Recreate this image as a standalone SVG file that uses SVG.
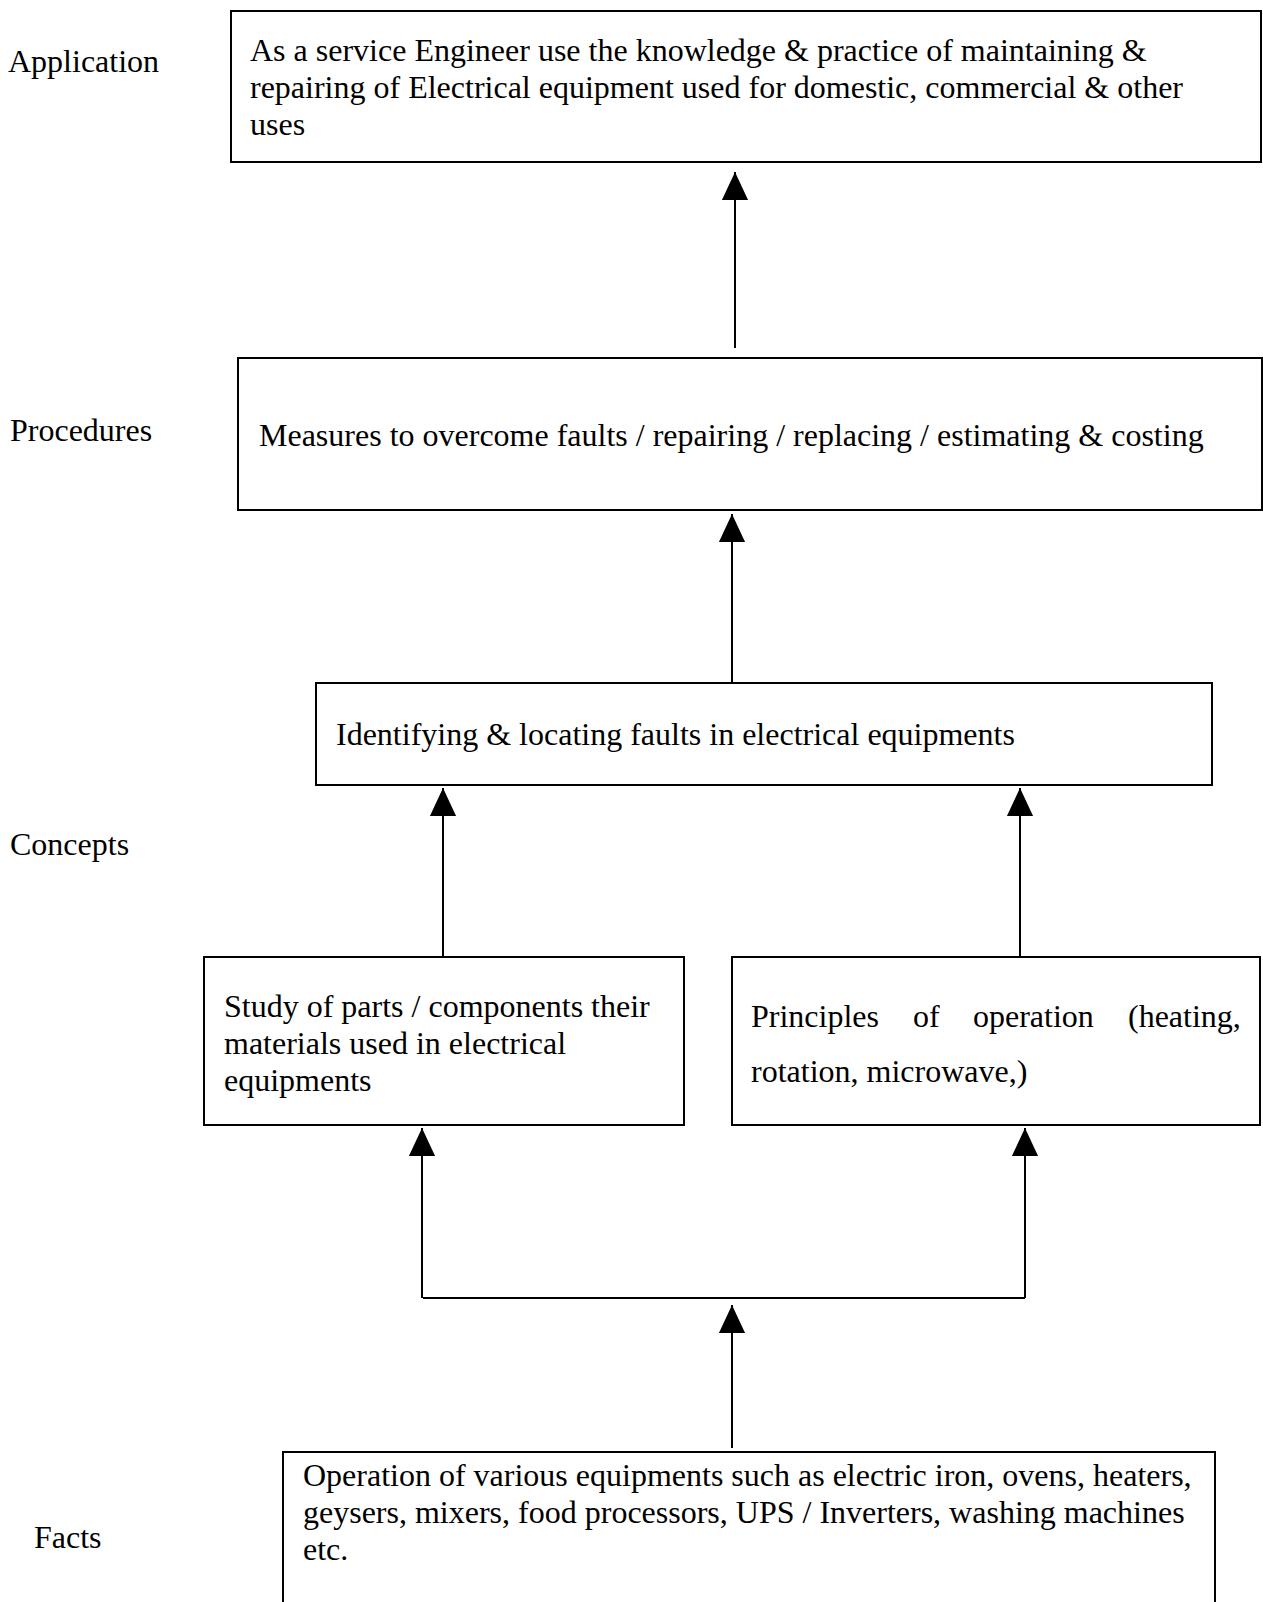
<svg xmlns="http://www.w3.org/2000/svg" width="1263" height="1602" viewBox="0 0 1263 1602">
<style>
text{font-family:"Liberation Serif","Times New Roman",serif;font-size:32px;fill:#000}
.box{fill:#fff;stroke:#000;stroke-width:2}
.con{stroke:#000;stroke-width:2;fill:none}
</style>
<defs>
<marker id="ah" markerUnits="userSpaceOnUse" markerWidth="28" markerHeight="30" viewBox="0 0 30 28" refX="30" refY="14" orient="auto">
<path d="M0,0 L30,14 L0,28 Z" fill="#000"/>
</marker>
</defs>
<rect width="1263" height="1602" fill="#fff"/>
<g id="labels">
<text x="8" y="72">Application</text>
<text x="10" y="441">Procedures</text>
<text x="10" y="855">Concepts</text>
<text x="34" y="1548">Facts</text>
</g>
<g id="connectors">
<line class="con" x1="735" y1="348" x2="735" y2="172" marker-end="url(#ah)"/>
<line class="con" x1="732" y1="682" x2="732" y2="514" marker-end="url(#ah)"/>
<line class="con" x1="443" y1="957" x2="443" y2="788" marker-end="url(#ah)"/>
<line class="con" x1="1020" y1="957" x2="1020" y2="788" marker-end="url(#ah)"/>
<line class="con" x1="422" y1="1298" x2="422" y2="1128" marker-end="url(#ah)"/>
<line class="con" x1="1025" y1="1298" x2="1025" y2="1128" marker-end="url(#ah)"/>
<line class="con" x1="423" y1="1298" x2="1025" y2="1298"/>
<line class="con" x1="732" y1="1448" x2="732" y2="1305" marker-end="url(#ah)"/>
</g>
<g id="application">
<rect class="box" x="231" y="11" width="1030" height="151"/>
<text x="250" y="61">As a service Engineer use the knowledge &amp; practice of maintaining &amp;</text>
<text x="250" y="98">repairing of Electrical equipment used for domestic, commercial &amp; other</text>
<text x="250" y="135">uses</text>
</g>
<g id="procedures">
<rect class="box" x="238" y="358" width="1024" height="152"/>
<text x="259" y="446">Measures to overcome faults / repairing / replacing / estimating &amp; costing</text>
</g>
<g id="identifying">
<rect class="box" x="316" y="683" width="896" height="102"/>
<text x="336" y="745">Identifying &amp; locating faults in electrical equipments</text>
</g>
<g id="study">
<rect class="box" x="204" y="957" width="480" height="168"/>
<text x="224" y="1017">Study of parts / components their</text>
<text x="224" y="1054">materials used in electrical</text>
<text x="224" y="1091">equipments</text>
</g>
<g id="principles">
<rect class="box" x="732" y="957" width="528" height="168"/>
<text y="1027"><tspan x="751">Principles</tspan><tspan x="913">of</tspan><tspan x="973">operation</tspan><tspan x="1128">(heating,</tspan></text>
<text x="751" y="1082">rotation, microwave,)</text>
</g>
<g id="facts">
<rect class="box" x="283" y="1452" width="932" height="180"/>
<text x="303" y="1486">Operation of various equipments such as electric iron, ovens, heaters,</text>
<text x="303" y="1523">geysers, mixers, food processors, UPS / Inverters, washing machines</text>
<text x="303" y="1560">etc.</text>
</g>
</svg>
